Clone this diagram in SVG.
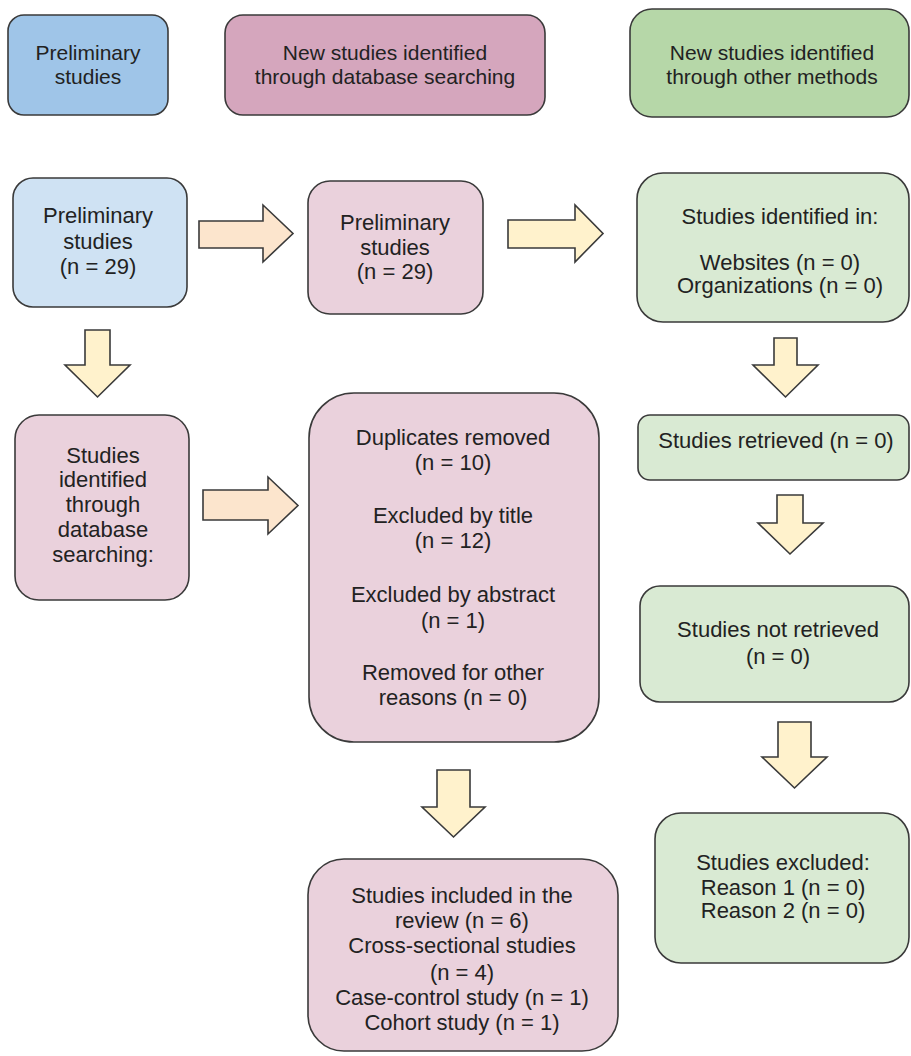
<svg xmlns="http://www.w3.org/2000/svg" width="911" height="1056" viewBox="0 0 911 1056">
<style>
.box{stroke:#3a3a3a;stroke-width:1.6}
.bh{fill:#9fc5e8}.bl{fill:#cfe2f3}
.ph{fill:#d5a6bd}.pl{fill:#ead1dc}
.gh{fill:#b6d7a8}.gl{fill:#d9ead3}
.ar{stroke:#3a3a3a;stroke-width:1.6;stroke-linejoin:miter}
.peach{fill:#fce5cd}.yel{fill:#fff2cc}
text{font-family:"Liberation Sans",Arial,sans-serif;font-size:22px;fill:#222;text-anchor:middle}
.hd{font-size:21px}
</style>
<rect width="911" height="1056" fill="#ffffff"/>
<g id="hdr-prelim">
<rect class="box bh" x="8" y="15" width="160" height="100" rx="16"/>
<text class="hd" x="88" y="60">Preliminary</text>
<text class="hd" x="88" y="84">studies</text>
</g>
<g id="hdr-db">
<rect class="box ph" x="225" y="15" width="320" height="100" rx="18"/>
<text class="hd" x="385" y="60">New studies identified</text>
<text class="hd" x="385" y="84">through database searching</text>
</g>
<g id="hdr-other">
<rect class="box gh" x="630" y="9" width="279" height="108" rx="22"/>
<text class="hd" x="772" y="60">New studies identified</text>
<text class="hd" x="772" y="84">through other methods</text>
</g>
<g id="n-prelim-blue">
<rect class="box bl" x="13" y="178" width="174" height="129" rx="20"/>
<text x="98" y="223">Preliminary</text>
<text x="98" y="249">studies</text>
<text x="98" y="274">(n = 29)</text>
</g>
<g id="n-prelim-pink">
<rect class="box pl" x="308" y="181" width="175" height="133" rx="22"/>
<text x="395" y="230">Preliminary</text>
<text x="395" y="255">studies</text>
<text x="395" y="279">(n = 29)</text>
</g>
<g id="n-identified-other">
<rect class="box gl" x="637" y="173" width="272" height="149" rx="26"/>
<text x="780" y="224">Studies identified in:</text>
<text x="780" y="270">Websites (n = 0)</text>
<text x="780" y="293">Organizations (n = 0)</text>
</g>
<g id="n-db-search">
<rect class="box pl" x="15" y="415" width="174" height="185" rx="24"/>
<text x="103" y="463">Studies</text>
<text x="103" y="487">identified</text>
<text x="103" y="512">through</text>
<text x="103" y="537">database</text>
<text x="103" y="562">searching:</text>
</g>
<g id="n-removed">
<rect class="box pl" x="309" y="393" width="290" height="349" rx="45"/>
<text x="453" y="445">Duplicates removed</text>
<text x="453" y="470">(n = 10)</text>
<text x="453" y="523">Excluded by title</text>
<text x="453" y="548">(n = 12)</text>
<text x="453" y="602">Excluded by abstract</text>
<text x="453" y="628">(n = 1)</text>
<text x="453" y="680">Removed for other</text>
<text x="453" y="705">reasons (n = 0)</text>
</g>
<g id="n-retrieved">
<rect class="box gl" x="638" y="415" width="271" height="65" rx="12"/>
<text x="776" y="448">Studies retrieved (n = 0)</text>
</g>
<g id="n-not-retrieved">
<rect class="box gl" x="640" y="586" width="269" height="116" rx="20"/>
<text x="778" y="637">Studies not retrieved</text>
<text x="778" y="664">(n = 0)</text>
</g>
<g id="n-excluded">
<rect class="box gl" x="655" y="813" width="254" height="150" rx="26"/>
<text x="783" y="870">Studies excluded:</text>
<text x="783" y="895">Reason 1 (n = 0)</text>
<text x="783" y="918">Reason 2 (n = 0)</text>
</g>
<g id="n-included">
<rect class="box pl" x="308" y="859" width="310" height="192" rx="36"/>
<text x="462" y="903">Studies included in the</text>
<text x="462" y="928">review (n = 6)</text>
<text x="462" y="953">Cross-sectional studies</text>
<text x="462" y="980">(n = 4)</text>
<text x="462" y="1005">Case-control study (n = 1)</text>
<text x="462" y="1030">Cohort study (n = 1)</text>
</g>
<g id="connectors">
<polygon class="ar peach" points="199,221 263,221 263,205 293,233.5 263,262 263,248 199,248"/>
<polygon class="ar yel" points="508,220 575,220 575,205 603,233.5 575,262 575,248 508,248"/>
<polygon class="ar peach" points="203,490 268,490 268,477 298,505.5 268,534 268,520 203,520"/>
<polygon class="ar yel" points="85,330 110,330 110,365 130,365 97.5,397 65,365 85,365"/>
<polygon class="ar yel" points="437,770 470,770 470,807 485,807 453.5,837 422,807 437,807"/>
<polygon class="ar yel" points="774,338 797,338 797,365 818,365 785.5,397 753,365 774,365"/>
<polygon class="ar yel" points="777,495 803,495 803,523 823,523 790,554 758,523 777,523"/>
<polygon class="ar yel" points="778,722 811,722 811,757 827,757 794.5,788 762,757 778,757"/>
</g>
</svg>
